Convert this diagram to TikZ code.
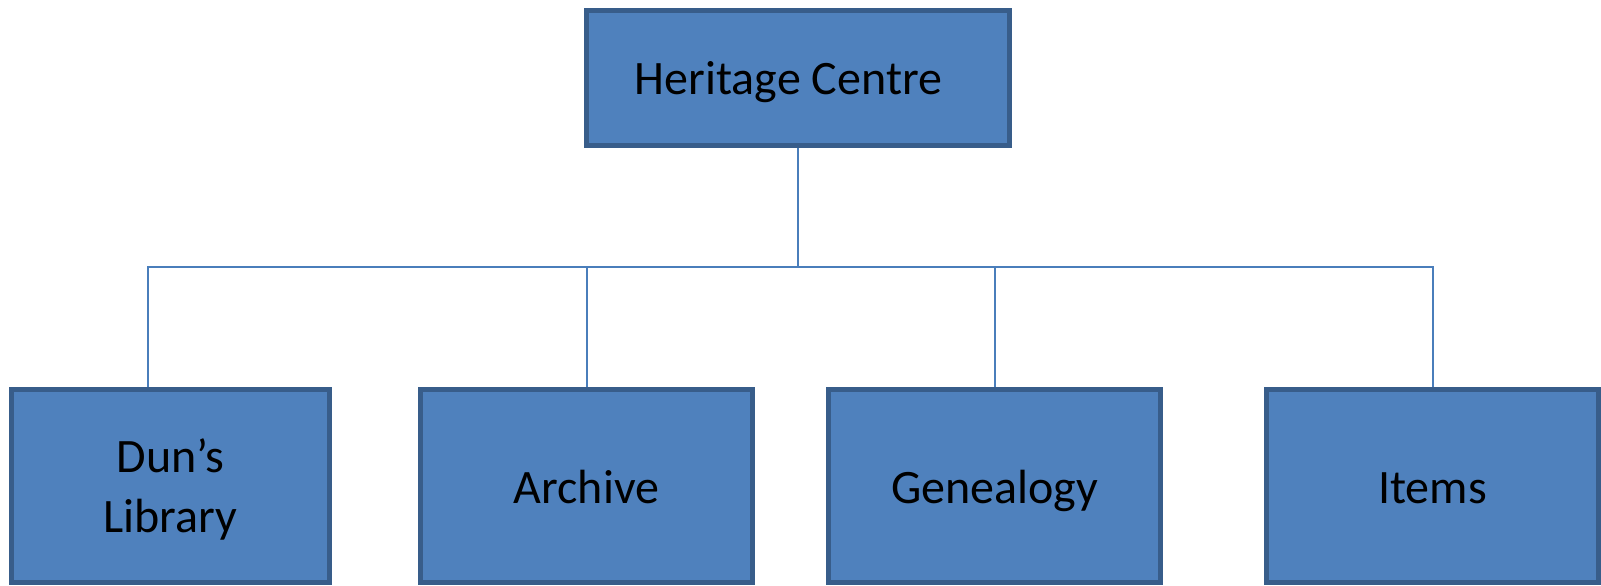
\documentclass[tikz,border=0pt]{standalone}
\usepackage{fontspec}
\setmainfont{Carlito}
\usetikzlibrary{backgrounds}
\definecolor{boxfill}{HTML}{4F81BD}
\definecolor{boxline}{HTML}{385D8A}
\definecolor{linkc}{HTML}{4A7EBB}
\newcommand{\basedrop}[2]{\raisebox{-#1}[0pt][0pt]{#2}}
\tikzset{
  unitbox/.style={draw=boxline, line width=5pt, fill=boxfill, rectangle,
    inner sep=0pt, align=center, text=black,
    font=\fontsize{48}{60}\selectfont},
  topbox/.style={unitbox, minimum width=423pt, minimum height=135pt},
  childbox/.style={unitbox, minimum width=332pt, minimum height=193pt},
  link/.style={draw=linkc, line width=2pt}
}
\begin{document}
\begin{tikzpicture}[x=1pt,y=-1pt]
\useasboundingbox (0,0) rectangle (1601,586);
\node[topbox] (hc) at (798,78) {\hspace*{-19pt}\basedrop{17pt}{Heritage Centre}};
\node[childbox, minimum width=318pt] (dun) at (170.5,486) {\basedrop{46pt}{\begin{tabular}[b]{@{}c@{}}Dun’s\\Library\end{tabular}}};
\node[childbox] (arc) at (586.5,486) {\basedrop{17.5pt}{Archive}};
\node[childbox] (gen) at (994.5,486) {\basedrop{17.5pt}{Genealogy}};
\node[childbox] (itm) at (1432.5,486) {\basedrop{17.5pt}{Items}};
\coordinate (bus) at (798,267);
\begin{scope}[on background layer]
\draw[link] (hc.south) -- (bus);
\draw[link] (bus) -| ([xshift=-22.5pt]dun.north);
\draw[link] (bus) -| (arc.north);
\draw[link] (bus) -| (gen.north);
\draw[link] (bus) -| (itm.north);
\end{scope}
\end{tikzpicture}
\end{document}
